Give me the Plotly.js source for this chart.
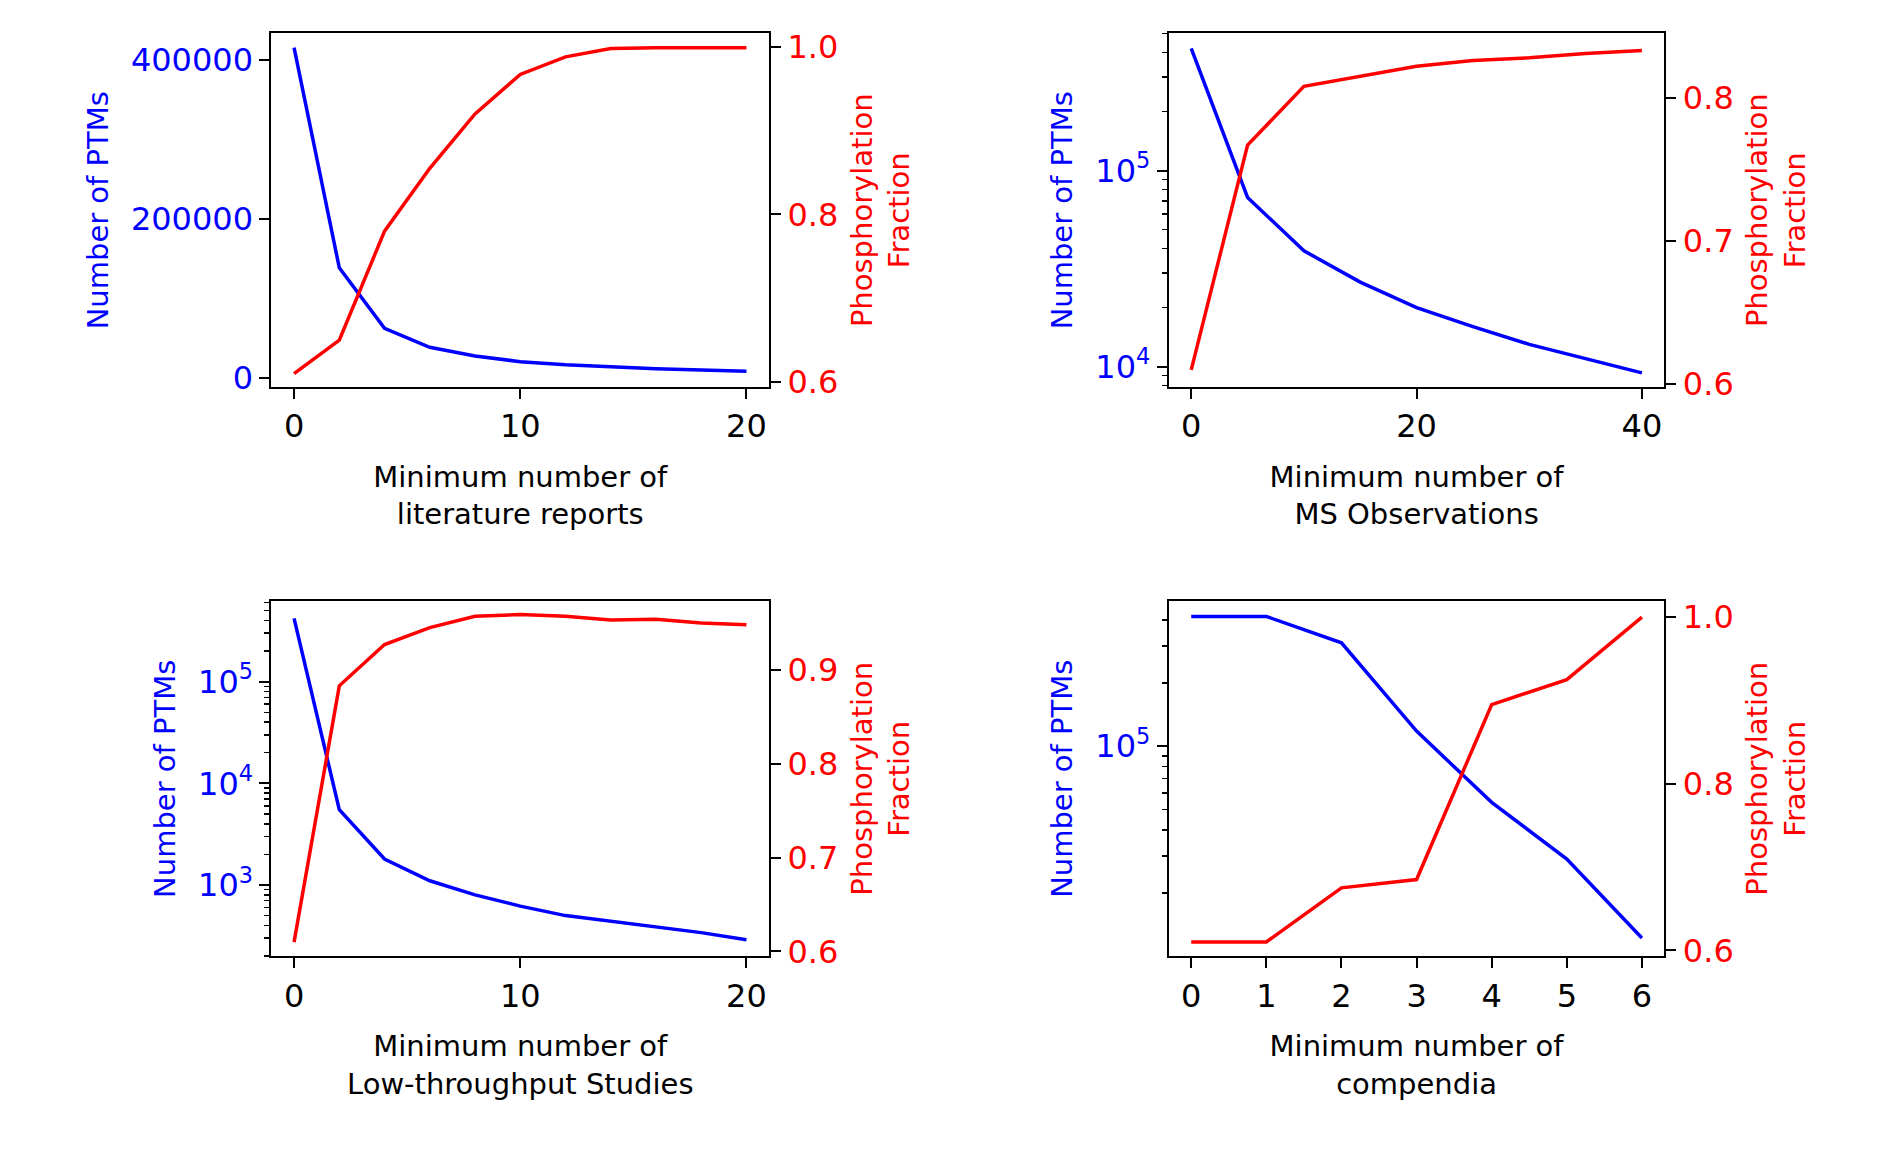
<!DOCTYPE html>
<html>
<head>
<meta charset="utf-8">
<script src="https://cdn.plot.ly/plotly-3.0.1.min.js"></script>
<style>body{margin:0;background:#fff}#chart{width:1885px;height:1152px}</style>
</head>
<body>
<div id="chart"></div>
<script>
// panel 1: literature reports
var litX = [0, 2, 4, 6, 8, 10, 12, 14, 16, 18, 20];
var litPtms = [415000, 138000, 62000, 38000, 27000, 20000, 16000, 13000, 11000, 9500, 8000];
var litPhos = [0.61, 0.65, 0.78, 0.855, 0.92, 0.967, 0.988, 0.998, 0.999, 0.999, 0.999];

// panel 2: MS observations
var msX = [0, 5, 10, 15, 20, 25, 30, 35, 40];
var msPtms = [420000, 73000, 39000, 27000, 20000, 16000, 13000, 11000, 9300];
var msPhos = [0.61, 0.767, 0.808, 0.815, 0.822, 0.826, 0.828, 0.831, 0.833];

// panel 3: low-throughput studies
var ltpX = [0, 2, 4, 6, 8, 10, 12, 14, 16, 18, 20];
var ltpPtms = [420000, 5500, 1800, 1100, 800, 620, 500, 440, 390, 340, 290];
var ltpPhos = [0.61, 0.883, 0.927, 0.945, 0.957, 0.959, 0.957, 0.953, 0.954, 0.950, 0.948];

// panel 4: compendia
var compX = [0, 1, 2, 3, 4, 5, 6];
var compPtms = [415000, 415000, 311000, 118000, 54000, 29000, 12200];
var compPhos = [0.61, 0.61, 0.675, 0.685, 0.895, 0.925, 1.0];

var BLUE = '#0000ff', RED = '#ff0000';
var FONT = 'DejaVu Sans';
var TICK = 32, TITLE = 29;

function minorLog(lo, hi) {
    var v = [];
    for (var e = lo; e <= hi; e++) for (var m = 2; m <= 9; m++) v.push(m * Math.pow(10, e));
    return v;
}

var colX = [[0.144, 0.408], [0.620, 0.883]];
var rowY = [[0.664, 0.971], [0.170, 0.478]];

var panels = [
    {x: litX, a: litPtms, b: litPhos, title: 'Minimum number of<br>literature reports', xr: [-1, 21], xt: [0, 10, 20],
     ylog: false, yr: [-12000, 433000], yt: [0, 200000, 400000], ytt: ['0', '200000', '400000'],
     rr: [0.594, 1.016], rt: [0.6, 0.8, 1.0], rtt: ['0.6', '0.8', '1.0']},
    {x: msX, a: msPtms, b: msPhos, title: 'Minimum number of<br>MS Observations', xr: [-2, 42], xt: [0, 20, 40],
     ylog: true, yr: [3.896, 5.70], yt: [1e4, 1e5], ytt: ['10<sup>4</sup>', '10<sup>5</sup>'], mn: minorLog(3, 5),
     rr: [0.598, 0.845], rt: [0.6, 0.7, 0.8], rtt: ['0.6', '0.7', '0.8']},
    {x: ltpX, a: ltpPtms, b: ltpPhos, title: 'Minimum number of<br>Low-throughput Studies', xr: [-1, 21], xt: [0, 10, 20],
     ylog: true, yr: [2.30, 5.79], yt: [1e3, 1e4, 1e5], ytt: ['10<sup>3</sup>', '10<sup>4</sup>', '10<sup>5</sup>'], mn: minorLog(2, 5),
     rr: [0.595, 0.973], rt: [0.6, 0.7, 0.8, 0.9], rtt: ['0.6', '0.7', '0.8', '0.9']},
    {x: compX, a: compPtms, b: compPhos, title: 'Minimum number of<br>compendia', xr: [-0.3, 6.3], xt: [0, 1, 2, 3, 4, 5, 6],
     ylog: true, yr: [4.0, 5.69], yt: [1e5], ytt: ['10<sup>5</sup>'], mn: minorLog(3, 5),
     rr: [0.593, 1.019], rt: [0.6, 0.8, 1.0], rtt: ['0.6', '0.8', '1.0']}
];

var data = [];
var layout = {
    width: 1885, height: 1152,
    margin: {l: 0, r: 0, t: 0, b: 0},
    paper_bgcolor: '#fff', plot_bgcolor: '#fff',
    showlegend: false,
    font: {family: FONT, color: '#000', size: TICK}
};

panels.forEach(function (p, i) {
    var n = i + 1;
    var xa = 'xaxis' + (n === 1 ? '' : n);
    var ya = 'yaxis' + (2 * n - 1 === 1 ? '' : 2 * n - 1);
    var yb = 'yaxis' + (2 * n);
    var xr = 'x' + (n === 1 ? '' : n);
    var yrA = 'y' + (2 * n - 1 === 1 ? '' : 2 * n - 1);
    var yrB = 'y' + (2 * n);
    var cx = colX[i % 2], cy = rowY[Math.floor(i / 2)];

    data.push({x: p.x, y: p.a, type: 'scatter', mode: 'lines', xaxis: xr, yaxis: yrA,
               line: {color: BLUE, width: 3.5}});
    data.push({x: p.x, y: p.b, type: 'scatter', mode: 'lines', xaxis: xr, yaxis: yrB,
               line: {color: RED, width: 3.5}});

    layout[xa] = {
        domain: cx, anchor: yrA, range: p.xr, tickvals: p.xt,
        showline: true, mirror: true, linecolor: '#000', linewidth: 2, showgrid: false, zeroline: false,
        ticks: 'outside', ticklen: 10, tickwidth: 2, tickcolor: '#000',
        tickfont: {size: TICK, color: '#000'},
        title: {text: p.title, font: {size: TITLE, color: '#000'}, standoff: 22}
    };
    var left = {
        domain: cy, anchor: xr, type: p.ylog ? 'log' : 'linear', range: p.yr,
        tickmode: 'array', tickvals: p.yt, ticktext: p.ytt,
        showline: true, linecolor: '#000', linewidth: 2, showgrid: false, zeroline: false,
        ticks: 'outside', ticklen: 10, tickwidth: 2, tickcolor: '#000',
        tickfont: {size: TICK, color: BLUE},
        title: {text: 'Number of PTMs', font: {size: TITLE, color: BLUE}, standoff: 14}
    };
    if (p.ylog) left.minor = {tickmode: 'array', tickvals: p.mn, ticks: 'outside', ticklen: 5, tickwidth: 1.5, tickcolor: '#000', showgrid: false};
    layout[ya] = left;
    layout[yb] = {
        domain: cy, anchor: xr, overlaying: yrA, side: 'right', range: p.rr,
        tickmode: 'array', tickvals: p.rt, ticktext: p.rtt,
        showline: true, linecolor: '#000', linewidth: 2, showgrid: false, zeroline: false,
        ticks: 'outside', ticklen: 10, tickwidth: 2, tickcolor: '#000',
        tickfont: {size: TICK, color: RED},
        title: {text: 'Phosphorylation<br>Fraction', font: {size: TITLE, color: RED}, standoff: 14}
    };
});

Plotly.newPlot('chart', data, layout, {displayModeBar: false, staticPlot: true});
</script>
</body>
</html>
